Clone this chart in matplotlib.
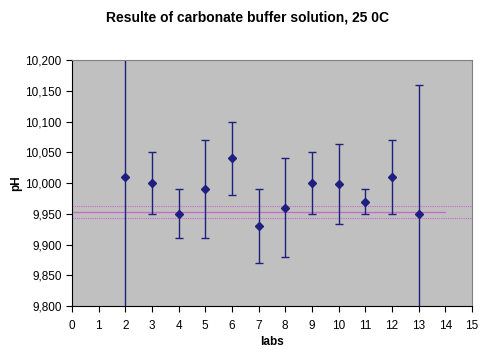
import matplotlib.pyplot as plt
from matplotlib.ticker import FuncFormatter

plt.rcParams['font.family'] = ['Liberation Sans', 'DejaVu Sans']

labs = [2, 3, 4, 5, 6, 7, 8, 9, 10, 11, 12, 13]
ph = [10.010, 10.000, 9.950, 9.990, 10.040, 9.930, 9.960, 10.000, 9.998, 9.970, 10.010, 9.950]
err = [0.30, 0.05, 0.04, 0.08, 0.06, 0.06, 0.08, 0.05, 0.065, 0.02, 0.06, 0.21]
mean_ph = 9.953
band = [9.943, 9.963]

fig = plt.figure(figsize=(4.8, 3.49), dpi=100)
ax = fig.add_axes([0.15, 0.123, 0.833, 0.705])
ax.set_facecolor('#C0C0C0')

ax.plot([0, 14], [mean_ph, mean_ph], color='#CC66CC', lw=0.9)
for b in band:
    ax.axhline(b, color='#CC66CC', lw=0.8, ls=(0, (1, 1)))

ax.errorbar(labs, ph, yerr=err, fmt='D', color='#1F1F7F', ms=4,
            elinewidth=1.0, capsize=3, capthick=1.0)

ax.set_xlim(0, 15)
ax.set_ylim(9.8, 10.2)
ax.set_xticks(range(0, 16))
ax.set_yticks([9.8 + 0.05 * i for i in range(9)])
ax.yaxis.set_major_formatter(FuncFormatter(lambda v, p: ('%.3f' % v).replace('.', ',')))
ax.tick_params(labelsize=8.5, direction='out', length=4, width=0.8, colors='#000000')
ax.tick_params(axis='x', pad=6)

for s in ['top', 'right']:
    ax.spines[s].set_color('#808080')
for s in ['left', 'bottom']:
    ax.spines[s].set_color('#000000')
for s in ax.spines.values():
    s.set_linewidth(0.8)

ax.set_xlabel('labs', fontsize=8.5, fontweight='bold', labelpad=3)
ax.set_ylabel('pH', fontsize=8.5, fontweight='bold', labelpad=2)
fig.text(0.515, 0.95, 'Resulte of carbonate buffer solution, 25 0C', fontsize=10,
         fontweight='bold', ha='center', va='center')

fig.savefig('out.png', dpi=100)
